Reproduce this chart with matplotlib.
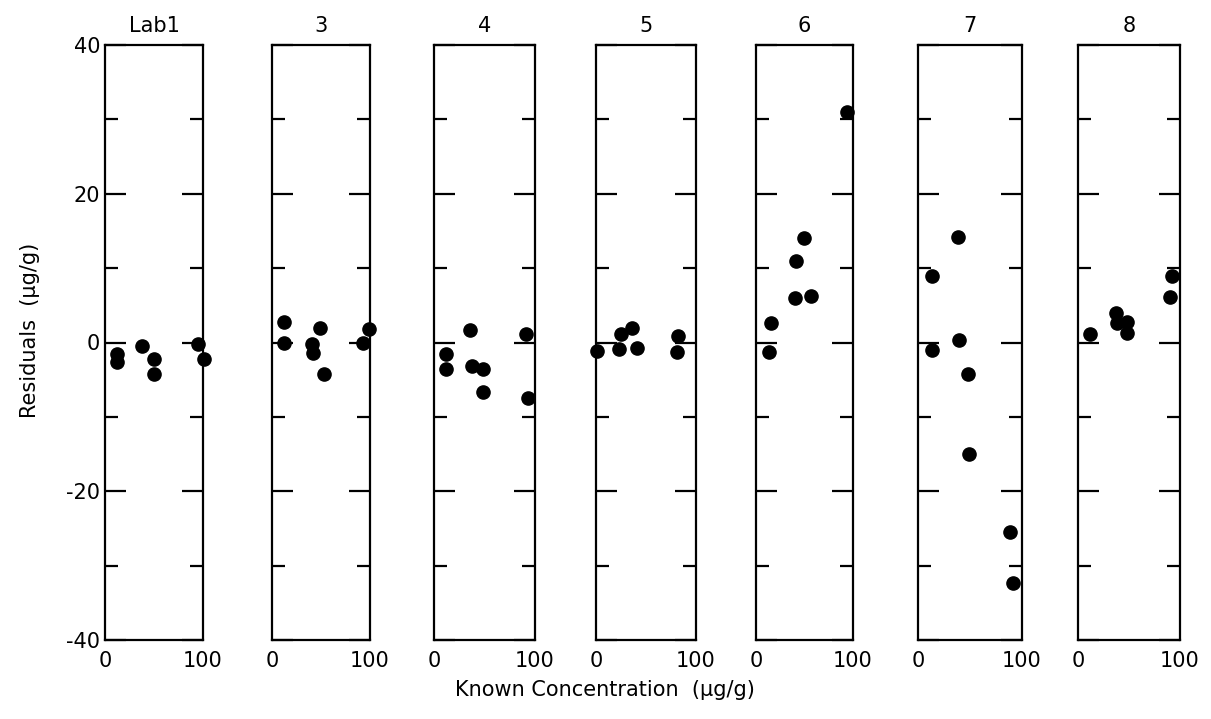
import matplotlib
matplotlib.use("Agg")
import matplotlib.pyplot as plt
from matplotlib.ticker import MultipleLocator

plt.rcParams["axes.unicode_minus"] = False

# lab names shown above each panel
labs = ["Lab1", "3", "4", "5", "6", "7", "8"]

# known concentration (ug/g) and residuals (ug/g)
lab1_x = [12, 12, 38, 50, 50, 95, 101]
lab1_y = [-1.5, -2.6, -0.5, -2.2, -4.3, -0.2, -2.2]

lab3_x = [12, 12, 49, 41, 42, 53, 99, 93]
lab3_y = [2.8, 0.0, 2.0, -0.2, -1.4, -4.3, 1.8, 0.0]

lab4_x = [12, 12, 36, 38, 49, 49, 91, 93]
lab4_y = [-1.5, -3.5, 1.7, -3.2, -3.5, -6.6, 1.2, -7.5]

lab5_x = [1, 25, 23, 36, 41, 82, 81]
lab5_y = [-1.1, 1.1, -0.9, 2.0, -0.8, 0.9, -1.3]

lab6_x = [94, 49, 41, 40, 57, 15, 13]
lab6_y = [31.0, 14.0, 11.0, 6.0, 6.3, 2.6, -1.3]

lab7_x = [38, 13, 39, 13, 48, 49, 88, 91]
lab7_y = [14.2, 9.0, 0.3, -1.0, -4.2, -15.0, -25.5, -32.3]

lab8_x = [12, 37, 38, 48, 48, 92, 90]
lab8_y = [1.2, 3.9, 2.6, 2.7, 1.3, 8.9, 6.1]

xs = [lab1_x, lab3_x, lab4_x, lab5_x, lab6_x, lab7_x, lab8_x]
ys = [lab1_y, lab3_y, lab4_y, lab5_y, lab6_y, lab7_y, lab8_y]

W, H = 1211, 719
fig = plt.figure(figsize=(W / 100, H / 100), dpi=100)

lefts = [105, 272, 434, 596, 756, 918, 1078]
widths = [98, 98, 101, 100, 97, 104, 102]
top, bottom = 45, 640

for i, lab in enumerate(labs):
    ax = fig.add_axes([lefts[i] / W, 1 - bottom / H, widths[i] / W, (bottom - top) / H])
    ax.plot(xs[i], ys[i], "o", color="black", markersize=9.5, clip_on=False)
    ax.set_xlim(0, 100)
    ax.set_ylim(-40, 40)
    for s in ax.spines.values():
        s.set_linewidth(1.6)
    ax.yaxis.set_major_locator(MultipleLocator(20))
    ax.yaxis.set_minor_locator(MultipleLocator(10))
    ax.tick_params(axis="y", which="both", direction="in", left=True, right=True,
                   width=1.6, labelsize=15)
    ax.tick_params(axis="y", which="major", length=15)
    ax.tick_params(axis="y", which="minor", length=9.5)
    ax.set_xticks([0, 100])
    ax.tick_params(axis="x", length=0, labelsize=15, pad=8)
    if i > 0:
        ax.tick_params(axis="y", labelleft=False)
    ax.set_title(lab, fontsize=15, pad=9)

fig.text(605 / W, 1 - 690 / H, "Known Concentration  (μg/g)", ha="center", va="center",
         fontsize=15)
fig.text(30 / W, 1 - 330 / H, "Residuals  (μg/g)", ha="center", va="center",
         rotation=90, fontsize=15)

fig.savefig("out.png", dpi=100)
